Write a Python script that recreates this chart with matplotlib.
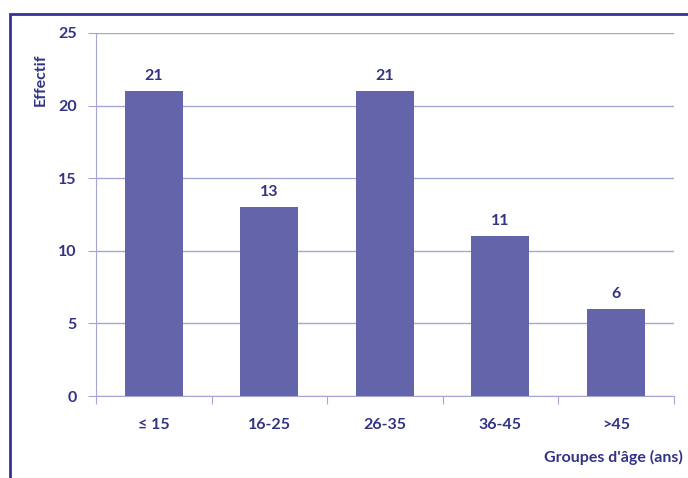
import matplotlib
matplotlib.use("Agg")
import matplotlib.pyplot as plt
from matplotlib.patches import Rectangle

# age groups and counts
groupes = ["≤ 15", "16-25", "26-35", "36-45", ">45"]
effectif = [21, 13, 21, 11, 6]
yticks = [0, 5, 10, 15, 20, 25]

bar_col = "#6464AA"
txt_col = "#333385"
grid_col = "#A6A6D2"
frame_col = "#333399"
fs = 11.5

plt.rcParams["font.family"] = ["Lato", "DejaVu Sans"]

W, H = 688, 478
fig = plt.figure(figsize=(W / 100, H / 100), dpi=100)
ax = fig.add_axes([96 / W, 1 - 396 / H, (673.5 - 96) / W, (396 - 33) / H])

x = list(range(len(groupes)))
ax.bar(x, effectif, width=0.5, color=bar_col, zorder=3)
for xi, v in zip(x, effectif):
    ax.annotate(str(v), (xi, v), xytext=(0, 6), textcoords="offset points",
                ha="center", va="bottom", fontsize=fs, fontweight="bold", color=txt_col)

ax.set_xlim(-0.5, len(groupes) - 0.5)
ax.set_ylim(0, 25)
ax.set_yticks(yticks)
ax.set_yticklabels([str(t) for t in yticks], fontsize=fs, fontweight="bold", color=txt_col)
ax.yaxis.grid(True, color=grid_col, linewidth=1, zorder=0)

# category labels between boundary ticks
ax.set_xticks([i - 0.5 for i in range(len(groupes) + 1)])
ax.set_xticklabels([])
ax.set_xticks(x, minor=True)
ax.set_xticklabels(groupes, minor=True, fontsize=fs, fontweight="bold", color=txt_col)
ax.tick_params(axis="x", which="minor", length=0, pad=16)
ax.tick_params(axis="x", which="major", length=6, color=grid_col, direction="out")
ax.tick_params(axis="y", length=6, color=grid_col, direction="out", pad=8)

for s in ["top", "right"]:
    ax.spines[s].set_visible(False)
ax.spines["left"].set_color(grid_col)
ax.spines["bottom"].set_color(grid_col)

fig.text(41 / W, 1 - 80 / H, "Effectif", rotation=90, ha="center", va="center",
         fontsize=fs, fontweight="bold", color=txt_col)
fig.text(683 / W, 1 - 457 / H, "Groupes d'âge (ans)", ha="right", va="center",
         fontsize=fs, fontweight="bold", color=txt_col)

# outer frame, cut off at right and bottom
fig.patches.append(Rectangle((10 / W, -0.1), 1.2, 1 - 14 / H + 0.1, transform=fig.transFigure,
                             fill=False, edgecolor=frame_col, linewidth=2))

fig.savefig("out.png", dpi=100)
